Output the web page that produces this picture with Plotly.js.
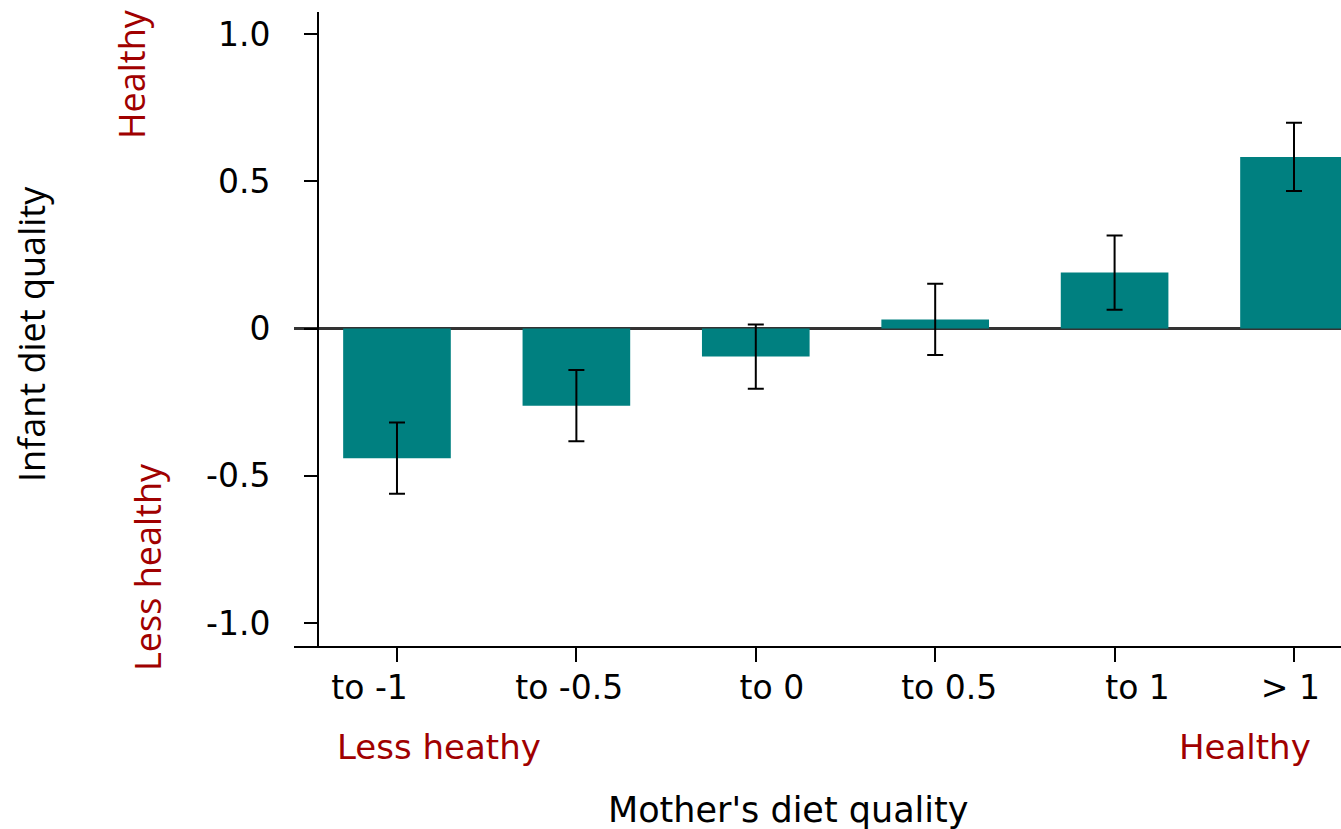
<!DOCTYPE html>
<html>
<head>
<meta charset="utf-8">
<script src="https://cdn.plot.ly/plotly-3.0.1.min.js"></script>
<style>html,body{margin:0;padding:0;background:#fff;}#chart{width:1341px;height:829px;}</style>
</head>
<body>
<div id="chart"></div>
<script>
const categories = ["to -1", "to -0.5", "to 0", "to 0.5", "to 1", "> 1"];
const values = [-0.44, -0.262, -0.095, 0.031, 0.19, 0.583];
const errors = [0.121, 0.121, 0.109, 0.121, 0.126, 0.116];
const yTickVals = [1.0, 0.5, 0, -0.5, -1.0];
const yTickText = ["1.0", "0.5", "0", "-0.5", "-1.0"];

const W = 1341, H = 829;
const mL = 294, mT = 12, mB = 183, mR = 0;
const pw = W - mL - mR, ph = H - mT - mB;
const px = x => (x - mL) / pw;
const py = y => (H - mB - y) / ph;

// labels in the original sit slightly off their tick marks (offset in category units)
const labelShift = [-0.153, -0.04, 0.09, 0.078, 0.128, -0.02];

const tickFont = {family: "DejaVu Sans, Verdana, sans-serif", size: 33, color: "#000"};
const sideFont = "Open Sans, sans-serif";
const red = "#A00000";
const xRange = [-0.574, 5.262];
const idx = categories.map((c, i) => i);

const trace = {
  type: "bar",
  x: idx,
  y: values,
  width: 0.6,
  marker: {color: "#008080", line: {width: 0}},
  error_y: {type: "data", array: errors, visible: true, color: "#000", thickness: 2, width: 8},
  hoverinfo: "skip"
};

// invisible carrier so the label axis (x2) gets drawn
const labelCarrier = {
  type: "scatter", mode: "none",
  x: idx, y: values,
  xaxis: "x2", yaxis: "y",
  hoverinfo: "skip", showlegend: false
};

const layout = {
  width: W, height: H,
  margin: {l: mL, r: mR, t: mT, b: mB, pad: 0},
  paper_bgcolor: "#fff", plot_bgcolor: "#fff",
  showlegend: false,
  xaxis: {
    range: xRange,
    tickvals: idx,
    showticklabels: false,
    showgrid: false, zeroline: false,
    showline: true, linecolor: "#000", linewidth: 2,
    ticks: "outside", ticklen: 14, tickwidth: 2, tickcolor: "#000"
  },
  xaxis2: {
    overlaying: "x", anchor: "y", side: "bottom",
    range: xRange,
    tickvals: idx.map((v, i) => v + labelShift[i]),
    ticktext: categories,
    showgrid: false, zeroline: false, showline: false,
    ticks: "",
    tickfont: tickFont,
    ticklabelstandoff: 19
  },
  yaxis: {
    range: [-1.078, 1.075],
    anchor: "free", position: 24 / pw,
    tickvals: yTickVals, ticktext: yTickText,
    showgrid: false,
    zeroline: true, zerolinecolor: "#333", zerolinewidth: 3,
    showline: true, linecolor: "#000", linewidth: 2,
    ticks: "outside", ticklen: 13, tickwidth: 2, tickcolor: "#000",
    tickfont: tickFont,
    ticklabelstandoff: 27
  },
  annotations: [
    {text: "Infant diet quality", xref: "paper", yref: "paper", x: px(32), y: py(334), textangle: -90,
     showarrow: false, xanchor: "center", yanchor: "middle", font: {family: sideFont, size: 36, color: "#000"}},
    {text: "Healthy", xref: "paper", yref: "paper", x: px(132), y: py(74), textangle: -90,
     showarrow: false, xanchor: "center", yanchor: "middle", font: {family: sideFont, size: 36, color: red}},
    {text: "Less healthy", xref: "paper", yref: "paper", x: px(147), y: py(567), textangle: -90,
     showarrow: false, xanchor: "center", yanchor: "middle", font: {family: sideFont, size: 36, color: red}},
    {text: "Less heathy", xref: "paper", yref: "paper", x: px(439), y: py(747),
     showarrow: false, xanchor: "center", yanchor: "middle", font: {family: "DejaVu Sans, Verdana, sans-serif", size: 34, color: red}},
    {text: "Healthy", xref: "paper", yref: "paper", x: px(1245), y: py(747),
     showarrow: false, xanchor: "center", yanchor: "middle", font: {family: "DejaVu Sans, Verdana, sans-serif", size: 34, color: red}},
    {text: "Mother's diet quality", xref: "paper", yref: "paper", x: px(788), y: py(810),
     showarrow: false, xanchor: "center", yanchor: "middle", font: {family: "DejaVu Sans, Verdana, sans-serif", size: 35, color: "#000"}}
  ]
};

Plotly.newPlot("chart", [trace, labelCarrier], layout, {displayModeBar: false, staticPlot: true});
</script>
</body>
</html>
